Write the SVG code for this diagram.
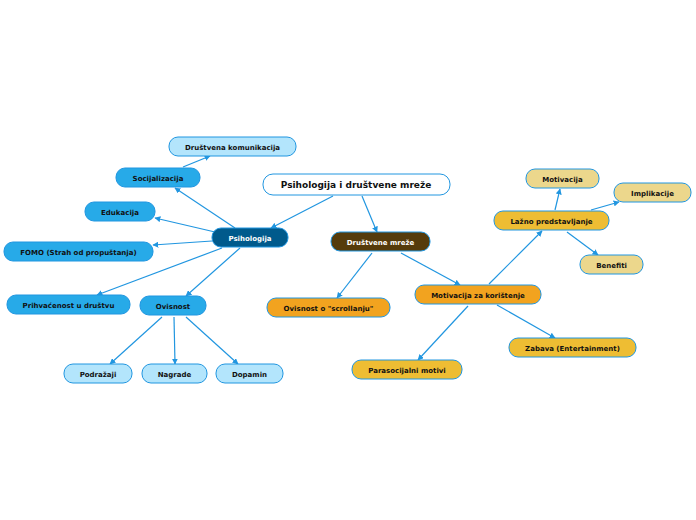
<svg xmlns="http://www.w3.org/2000/svg" width="696" height="520" viewBox="0 0 696 520">
<defs>
<marker id="ah" viewBox="0 0 10 10" refX="9" refY="5" markerWidth="6" markerHeight="6" orient="auto" markerUnits="userSpaceOnUse">
<path d="M0,0 L10,5 L0,10 z" fill="#2196e0"/>
</marker>
<style>
rect{stroke:#2196e0;stroke-width:1}
text{font-family:"DejaVu Sans",Verdana,sans-serif;font-weight:bold;font-size:7px;text-anchor:middle;fill:#111}
.w{fill:#fff}
.c line{stroke:#2196e0;stroke-width:1.2;marker-end:url(#ah)}
.root{fill:#fff}
.dark{fill:#005a8c}
.brown{fill:#553b0b}
.mid{fill:#27aae8}
.light{fill:#b3e5fc}
.orange{fill:#f2a31f}
.yellow{fill:#eebd33}
.pale{fill:#ecd78c}
</style>
</defs>
<rect width="696" height="520" fill="#fff" style="stroke:none"/>
<g class="c" id="connectors">
<line x1="333" y1="196" x2="271" y2="228"/>
<line x1="362" y1="196" x2="377" y2="232"/>
<line x1="235" y1="228" x2="175" y2="188"/>
<line x1="183" y1="167" x2="210" y2="156"/>
<line x1="215" y1="232" x2="155" y2="218"/>
<line x1="212" y1="241" x2="153" y2="245"/>
<line x1="222" y1="248" x2="97" y2="295"/>
<line x1="240" y1="248" x2="186" y2="296"/>
<line x1="162" y1="317" x2="110" y2="364"/>
<line x1="174" y1="317" x2="175" y2="364"/>
<line x1="186" y1="317" x2="238" y2="364"/>
<line x1="372" y1="253" x2="337" y2="298"/>
<line x1="401" y1="253" x2="460" y2="285"/>
<line x1="468" y1="306" x2="418" y2="360"/>
<line x1="497" y1="305" x2="555" y2="338"/>
<line x1="489" y1="284" x2="542" y2="231"/>
<line x1="555" y1="210" x2="560" y2="189"/>
<line x1="591" y1="210" x2="619" y2="202"/>
<line x1="567" y1="232" x2="598" y2="255"/>
</g>
<g id="root"><rect class="root" x="263" y="174" width="187" height="21" rx="10"/><text x="356" y="188" style="font-size:9px">Psihologija i društvene mreže</text></g>
<g id="psihologija"><rect class="dark" x="212" y="228" width="76" height="19" rx="9"/><text class="w" x="250" y="240.5">Psihologija</text></g>
<g id="drustvene"><rect class="brown" x="331" y="232" width="99" height="19" rx="9"/><text class="w" x="380.5" y="244.5">Društvene mreže</text></g>
<g id="socijalizacija"><rect class="mid" x="116" y="168" width="84" height="19" rx="9"/><text x="158" y="180.5">Socijalizacija</text></g>
<g id="komunikacija"><rect class="light" x="169" y="137" width="127" height="19" rx="9"/><text x="232.5" y="149.5">Društvena komunikacija</text></g>
<g id="edukacija"><rect class="mid" x="85" y="202" width="70" height="19" rx="9"/><text x="120" y="214.5">Edukacija</text></g>
<g id="fomo"><rect class="mid" x="4" y="242" width="149" height="19" rx="9"/><text x="78.5" y="254.5">FOMO (Strah od propuštanja)</text></g>
<g id="prihvacenost"><rect class="mid" x="7" y="295" width="123" height="19" rx="9"/><text x="68.5" y="307.5">Prihvaćenost u društvu</text></g>
<g id="ovisnost"><rect class="mid" x="140" y="296" width="66" height="19" rx="9"/><text x="173" y="308.5">Ovisnost</text></g>
<g id="podrazaji"><rect class="light" x="64" y="364" width="68" height="19" rx="9"/><text x="98" y="376.5">Podražaji</text></g>
<g id="nagrade"><rect class="light" x="142" y="364" width="65" height="19" rx="9"/><text x="174.5" y="376.5">Nagrade</text></g>
<g id="dopamin"><rect class="light" x="216" y="364" width="67" height="19" rx="9"/><text x="249.5" y="376.5">Dopamin</text></g>
<g id="scrollanje"><rect class="orange" x="267" y="298" width="123" height="19" rx="9"/><text x="328.5" y="310.5">Ovisnost o "scrollanju"</text></g>
<g id="motivacija-koristenje"><rect class="orange" x="415" y="285" width="126" height="19" rx="9"/><text x="478" y="297.5">Motivacija za korištenje</text></g>
<g id="parasocijalni"><rect class="yellow" x="352" y="360" width="110" height="19" rx="9"/><text x="407" y="372.5">Parasocijalni motivi</text></g>
<g id="zabava"><rect class="yellow" x="509" y="338" width="127" height="19" rx="9"/><text x="572.5" y="350.5">Zabava (Entertainment)</text></g>
<g id="lazno"><rect class="yellow" x="494" y="211" width="115" height="19" rx="9"/><text x="551.5" y="223.5">Lažno predstavljanje</text></g>
<g id="motivacija"><rect class="pale" x="526" y="169" width="73" height="19" rx="9"/><text x="562.5" y="181.5">Motivacija</text></g>
<g id="implikacije"><rect class="pale" x="614" y="183" width="77" height="19" rx="9"/><text x="652.5" y="195.5">Implikacije</text></g>
<g id="benefiti"><rect class="pale" x="580" y="255" width="63" height="19" rx="9"/><text x="611.5" y="267.5">Benefiti</text></g>
</svg>
